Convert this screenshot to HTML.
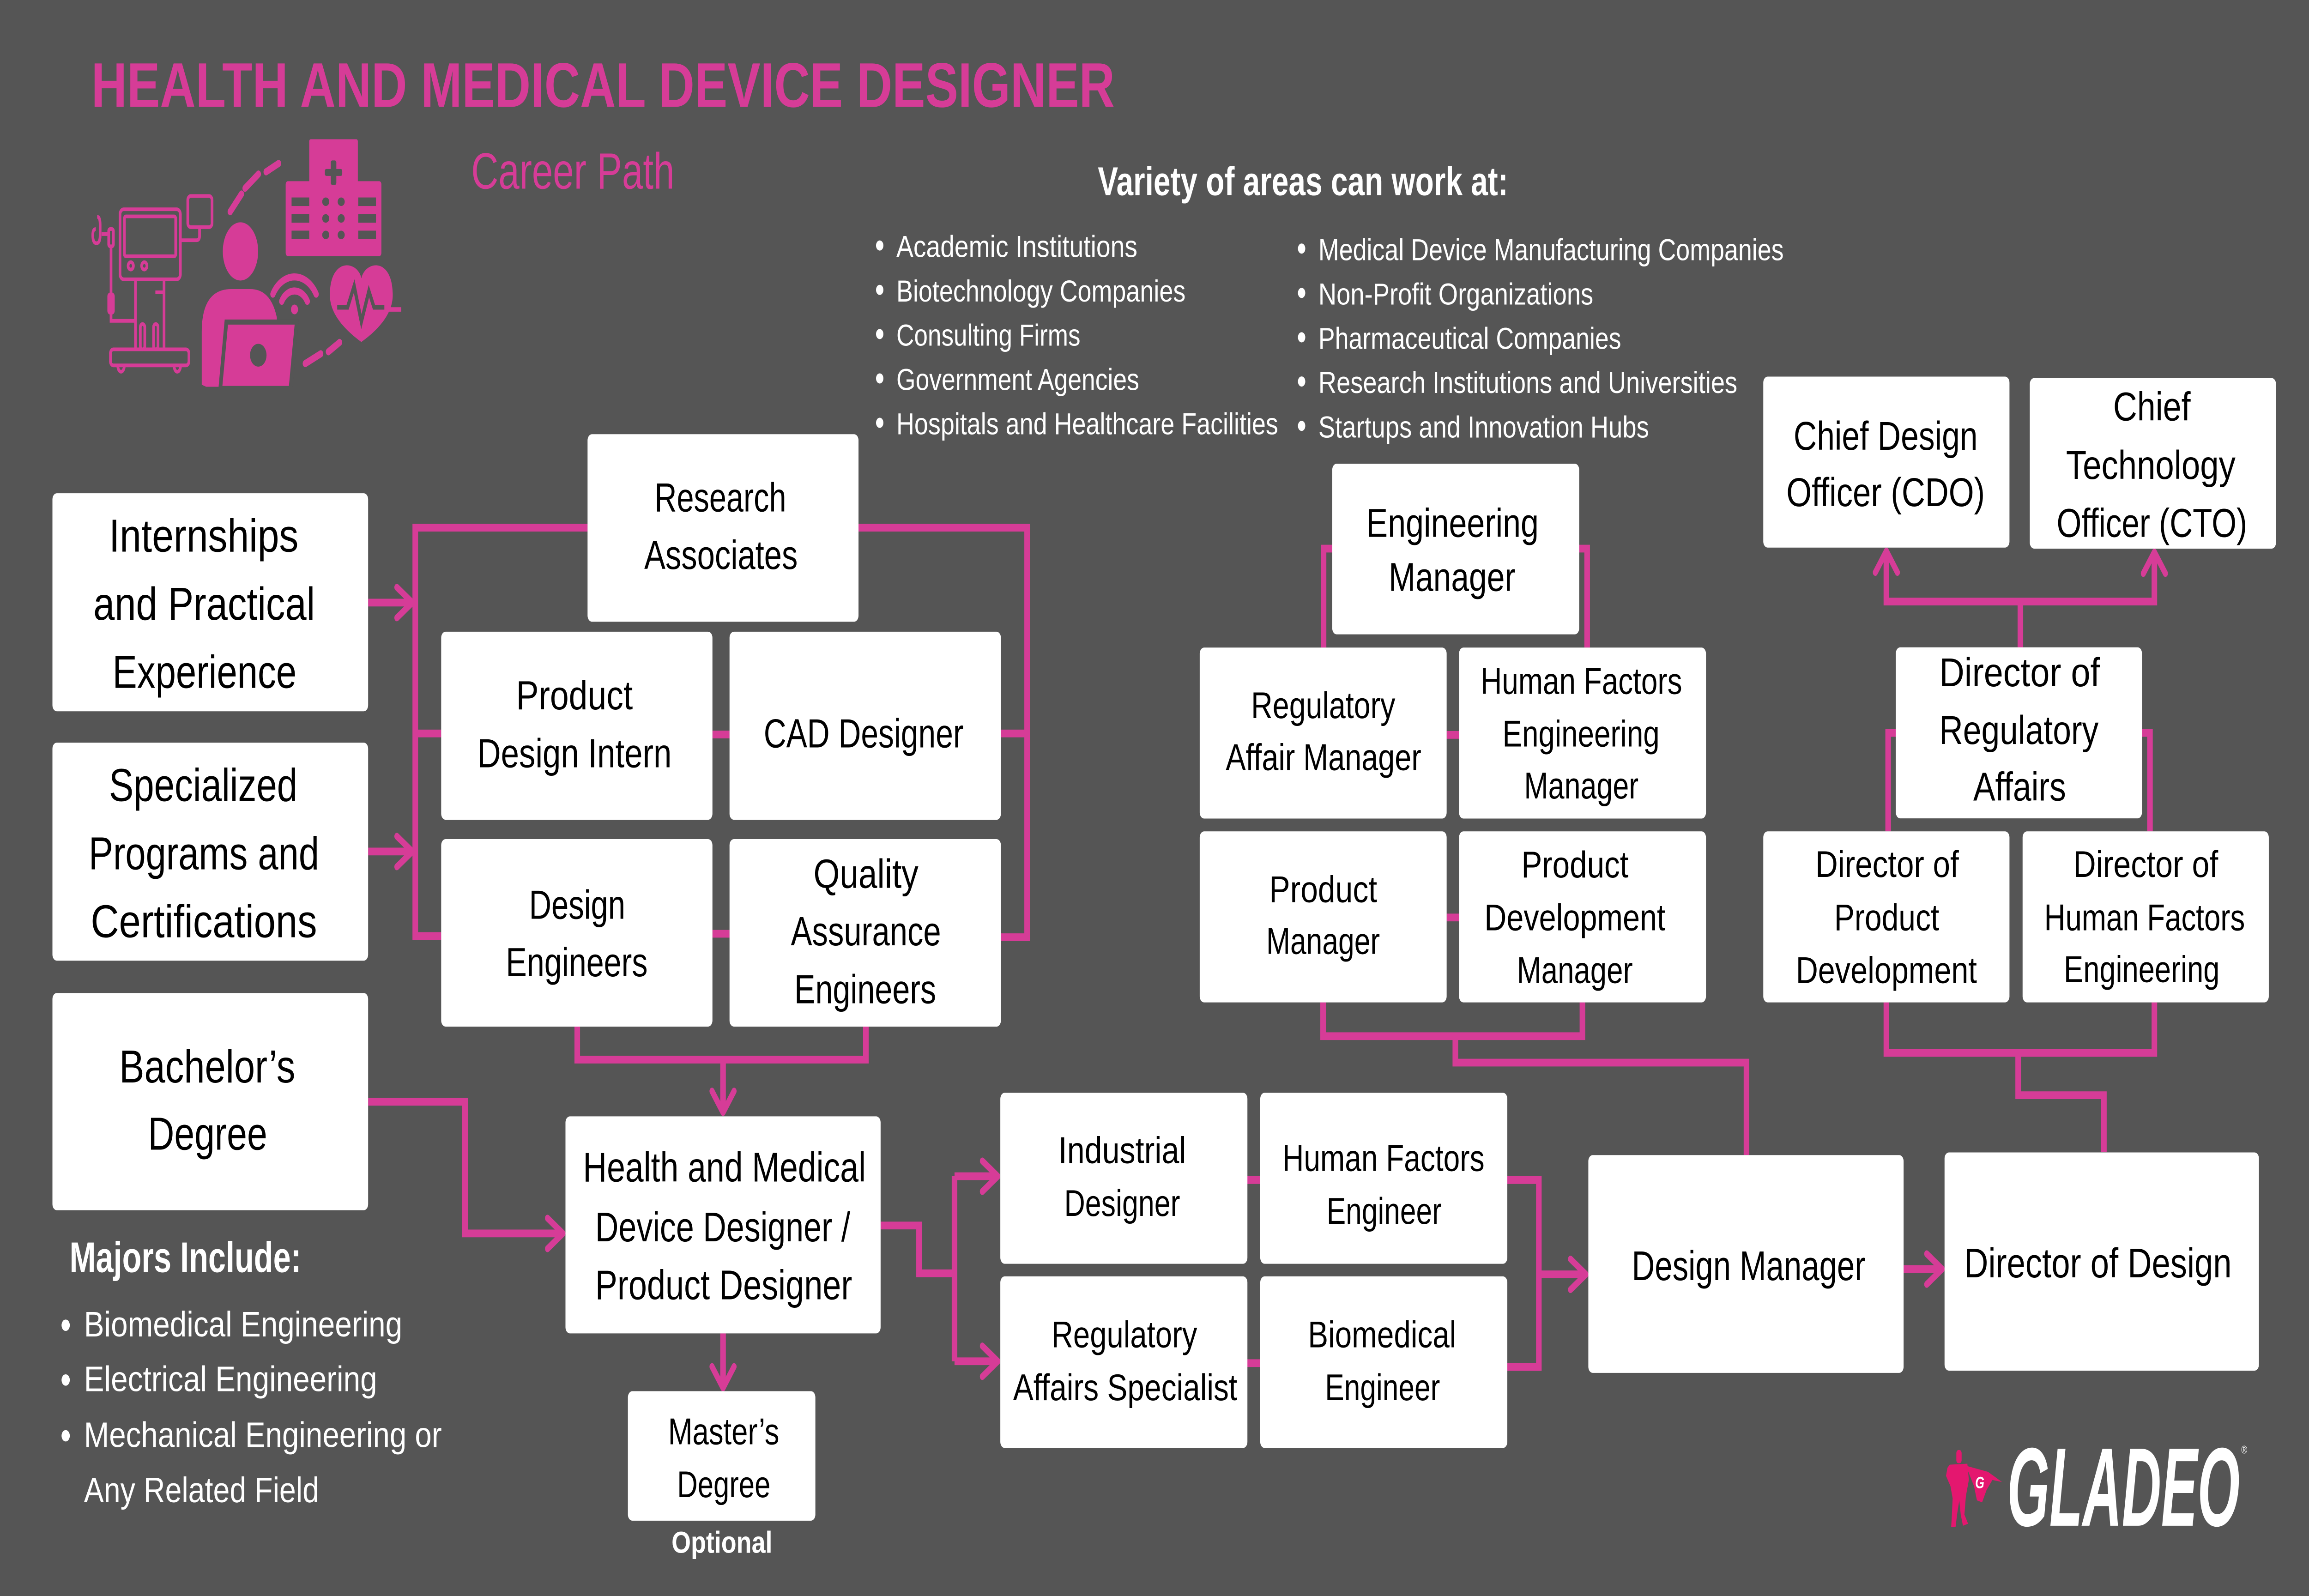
<!DOCTYPE html>
<html><head><meta charset="utf-8">
<style>
html,body{margin:0;padding:0;width:100vw;height:100vh;overflow:hidden;background:#555555;}
svg{display:block;width:100vw;height:100vh;}
text{font-family:"Liberation Sans",Arial,sans-serif;}
.k{fill:#000;}
.w{fill:#fff;}
</style></head>
<body>
<svg viewBox="0 0 1568 784" preserveAspectRatio="none" xmlns="http://www.w3.org/2000/svg">
<rect x="0" y="0" width="1568" height="784" fill="#555555"/>

<!-- Title -->
<text x="62" y="52.5" font-size="31" font-weight="bold" fill="#D63C97" textLength="695" lengthAdjust="spacingAndGlyphs">HEALTH AND MEDICAL DEVICE DESIGNER</text>
<text x="320" y="92.7" font-size="25" fill="#D63C97" textLength="138" lengthAdjust="spacingAndGlyphs">Career Path</text>

<!-- Icon -->
<g fill="none" stroke="#D63C97" stroke-width="1.8">
 <rect x="81.5" y="102.8" width="41" height="34.4" rx="2.5"/>
 <rect x="84.5" y="106.3" width="34.8" height="19.6" rx="1"/>
 <circle cx="88.8" cy="130.6" r="1.8"/>
 <circle cx="98" cy="130.6" r="1.8"/>
 <path d="M92,137.4 V171.6 M111.4,137.4 V171.6 M105.5,143.6 H111.4"/>
 <rect x="95.3" y="159.2" width="3" height="12.4" rx="1.5"/>
 <rect x="104.3" y="159.2" width="3" height="12.4" rx="1.5"/>
 <rect x="75" y="171.6" width="53.3" height="7.9" rx="2"/>
 <path d="M80,179.6 a2.2,3 0 0 0 4.4,0 M118.2,179.6 a2.2,3 0 0 0 4.4,0"/>
 <path d="M75.4,121 V157.6 H92"/>
 <rect x="73.8" y="112.5" width="3.2" height="8.5" rx="1"/>
 <rect x="73.8" y="144.6" width="3.2" height="9" rx="1"/>
 <path d="M73.8,115 H69 M66,106.5 q2,0 2,4 v5 q0,4 -2.5,4 q-2.5,0 -2.5,-4 q0,-3 2,-3"/>
 <rect x="127.5" y="96.3" width="16.5" height="15.3" rx="2"/>
 <path d="M135.5,111.6 V116 q0,2 -2,2 H122.5"/>
</g>
<g stroke="#D63C97" stroke-width="3.5" stroke-linecap="round" fill="none">
 <path d="M156.3,104 L164,95.3"/>
 <path d="M166.4,92.5 L175.5,85.5"/>
 <path d="M180.7,84.4 L189.2,80.3"/>
 <path d="M207.3,178.6 L217.8,173.8"/>
 <path d="M223,172.8 L230.6,168.2"/>
 <path d="M191.3,148 A10,10 0 0 1 208.7,148"/>
 <path d="M185.3,144.5 A17,17 0 0 1 214.7,144.5"/>
</g>
<circle cx="200" cy="152" r="2.4" fill="#D63C97"/>
<g fill="#D63C97">
 <rect x="210" y="68.4" width="33" height="22" rx="1"/>
 <rect x="194" y="89" width="65" height="36.8" rx="1.5"/>
</g>
<g fill="#555555">
 <rect x="224.6" y="78.8" width="3.8" height="12" rx="1"/>
 <rect x="220.6" y="83" width="11.8" height="3.4" rx="1"/>
 <rect x="198" y="97" width="12" height="4.2"/>
 <rect x="198" y="105.2" width="12" height="4.2"/>
 <rect x="198" y="113.3" width="12" height="4.2"/>
 <rect x="243.3" y="97" width="12" height="4.2"/>
 <rect x="243.3" y="105.2" width="12" height="4.2"/>
 <rect x="243.3" y="113.3" width="12" height="4.2"/>
 <ellipse cx="221.2" cy="99.1" rx="2.4" ry="2.1"/>
 <ellipse cx="231.7" cy="99.1" rx="2.4" ry="2.1"/>
 <ellipse cx="221.2" cy="107.3" rx="2.4" ry="2.1"/>
 <ellipse cx="231.7" cy="107.3" rx="2.4" ry="2.1"/>
 <ellipse cx="221.2" cy="115.4" rx="2.4" ry="2.1"/>
 <ellipse cx="231.7" cy="115.4" rx="2.4" ry="2.1"/>
</g>
<ellipse cx="163.3" cy="123.5" rx="12" ry="14.3" fill="#D63C97"/>
<path d="M137,189 L137,163 Q137,142 157,142 L170,142 Q184,142 188,156 L188,190 L140,190 Z" fill="#D63C97"/>
<path d="M153.7,158.2 L201.5,158.2 L197.3,190.8 L149.6,190.8 Z" fill="#D63C97" stroke="#555555" stroke-width="2.5"/>
<circle cx="175.4" cy="174.5" r="5.6" fill="#555555"/>
<path d="M245.4,136.7 C243,128 224,126 224,145 C224,155 236,163 245.4,168 C255,163 266.7,155 266.7,145 C266.7,126 248,128 245.4,136.7 Z" fill="#D63C97"/>
<polyline points="229,151 236,151 240.5,140.5 245.4,158 250.5,143 254,151 261,151" fill="none" stroke="#555555" stroke-width="2.2"/>
<path d="M264,152 H272.5" stroke="#D63C97" stroke-width="2.2"/>

<!-- Variety section -->
<text x="745.5" y="95.9" font-size="19.8" font-weight="bold" class="w" textLength="278.6" lengthAdjust="spacingAndGlyphs">Variety of areas can work at:</text>
<g class="w" font-size="15">
 <text x="608.7" y="126.3" textLength="163.7" lengthAdjust="spacingAndGlyphs">Academic Institutions</text>
 <text x="608.7" y="148.1" textLength="196.4" lengthAdjust="spacingAndGlyphs">Biotechnology Companies</text>
 <text x="608.7" y="169.8" textLength="125" lengthAdjust="spacingAndGlyphs">Consulting Firms</text>
 <text x="608.7" y="191.6" textLength="164.9" lengthAdjust="spacingAndGlyphs">Government Agencies</text>
 <text x="608.7" y="213.4" textLength="259.3" lengthAdjust="spacingAndGlyphs">Hospitals and Healthcare Facilities</text>
 <text x="895.3" y="127.8" textLength="316" lengthAdjust="spacingAndGlyphs">Medical Device Manufacturing Companies</text>
 <text x="895.3" y="149.6" textLength="186.7" lengthAdjust="spacingAndGlyphs">Non-Profit Organizations</text>
 <text x="895.3" y="171.4" textLength="205.6" lengthAdjust="spacingAndGlyphs">Pharmaceutical Companies</text>
 <text x="895.3" y="193.1" textLength="284.5" lengthAdjust="spacingAndGlyphs">Research Institutions and Universities</text>
 <text x="895.3" y="214.9" textLength="224.5" lengthAdjust="spacingAndGlyphs">Startups and Innovation Hubs</text>
</g>
<g fill="#fff">
 <circle cx="597.4" cy="120.6" r="2.5"/>
 <circle cx="597.4" cy="142.4" r="2.5"/>
 <circle cx="597.4" cy="164.1" r="2.5"/>
 <circle cx="597.4" cy="185.9" r="2.5"/>
 <circle cx="597.4" cy="207.7" r="2.5"/>
 <circle cx="883.9" cy="122.1" r="2.5"/>
 <circle cx="883.9" cy="143.9" r="2.5"/>
 <circle cx="883.9" cy="165.7" r="2.5"/>
 <circle cx="883.9" cy="187.4" r="2.5"/>
 <circle cx="883.9" cy="209.2" r="2.5"/>
</g>

<!-- Connectors -->
<g fill="none" stroke="#D63C97" stroke-width="3.8" stroke-linejoin="miter">
 <path d="M399,259.2 H282 V459.8 H299.6"/>
 <path d="M282,360.3 H299.6"/>
 <path d="M583,259.2 H697.5 V460.4 H679.7"/>
 <path d="M679.7,360.3 H697.5"/>
 <path d="M483.8,360.8 H495.4"/>
 <path d="M483.8,458.7 H495.4"/>
 <path d="M250,296 H280"/>
 <path d="M250,418.3 H280"/>
 <path d="M392,504.3 V520.5 H588 V504.3"/>
 <path d="M491,520.5 V546"/>
 <path d="M250,541.2 H315.8 V605.9 H382"/>
 <path d="M491,655 V681.5"/>
 <path d="M598,602 H624.1 V625.5 H648.2"/>
 <path d="M648.2,577.8 V668.7"/>
 <path d="M648.2,577.8 H677"/>
 <path d="M648.2,668.7 H677"/>
 <path d="M847,579.7 H856"/>
 <path d="M847,669.6 H856"/>
 <path d="M1023.6,579.7 H1045 V671.5 H1023.6"/>
 <path d="M1045,626 H1076"/>
 <path d="M1292.7,623.4 H1318"/>
 <path d="M904.7,269.5 H898.8 V318.1"/>
 <path d="M1072.4,269.5 H1077.8 V318.1"/>
 <path d="M982.4,361 H990.8"/>
 <path d="M982.4,450.7 H990.8"/>
 <path d="M898.5,492.4 V509 H1074.6 V492.4"/>
 <path d="M988.3,509 V522 H1186 V567.4"/>
 <path d="M1281,271.5 V295.5 H1463 V271.5"/>
 <path d="M1372,295.5 V318"/>
 <path d="M1287.4,360 H1282.2 V408.4"/>
 <path d="M1454.6,360 H1460 V408.4"/>
 <path d="M1281,492.4 V517.2 H1463 V492.4"/>
 <path d="M1370.5,517.2 V538 H1428.7 V566"/>
</g>
<!-- Arrowheads -->
<g fill="none" stroke="#D63C97" stroke-width="3.4" stroke-linejoin="round" stroke-linecap="round">
 <path d="M269.5,288.5 L280,296 L269.5,303.5"/>
 <path d="M269.5,410.8 L280,418.3 L269.5,425.8"/>
 <path d="M483.5,536 L491,546.5 L498.5,536"/>
 <path d="M371.8,598.4 L382.3,605.9 L371.8,613.4"/>
 <path d="M483.5,671.3 L491,681.8 L498.5,671.3"/>
 <path d="M667.1,570.3 L677.6,577.8 L667.1,585.3"/>
 <path d="M667.1,661.2 L677.6,668.7 L667.1,676.2"/>
 <path d="M1066.5,618.5 L1077,626 L1066.5,633.5"/>
 <path d="M1308.4,615.9 L1318.9,623.4 L1308.4,630.9"/>
 <path d="M1273.5,281.2 L1281,270.7 L1288.5,281.2"/>
 <path d="M1455.5,281.7 L1463,271.2 L1470.5,281.7"/>
</g>

<!-- Boxes -->
<g fill="#fff">
 <rect x="35.6" y="242.3" width="214.4" height="107.1" rx="3"/>
 <rect x="35.6" y="364.8" width="214.4" height="107.1" rx="3"/>
 <rect x="35.6" y="487.8" width="214.4" height="106.7" rx="3"/>
 <rect x="399" y="213.3" width="184" height="92.1" rx="3"/>
 <rect x="299.6" y="310.3" width="184.2" height="92.4" rx="3"/>
 <rect x="495.4" y="310.3" width="184.3" height="92.4" rx="3"/>
 <rect x="299.6" y="412.2" width="184.2" height="92.1" rx="3"/>
 <rect x="495.4" y="412.2" width="184.3" height="92.1" rx="3"/>
 <rect x="384" y="548.4" width="214" height="106.6" rx="3"/>
 <rect x="426.4" y="683.4" width="127.3" height="63.6" rx="3"/>
 <rect x="679.3" y="536.8" width="167.8" height="84" rx="3"/>
 <rect x="855.8" y="536.8" width="167.8" height="84" rx="3"/>
 <rect x="679.3" y="627" width="167.8" height="84.3" rx="3"/>
 <rect x="855.8" y="627" width="167.8" height="84.3" rx="3"/>
 <rect x="1078.6" y="567.4" width="214.1" height="107" rx="3"/>
 <rect x="1320.5" y="566.1" width="213.5" height="107.2" rx="3"/>
 <rect x="904.7" y="227.8" width="167.7" height="83.8" rx="3"/>
 <rect x="814.7" y="318.1" width="167.7" height="84" rx="3"/>
 <rect x="990.8" y="318.1" width="167.7" height="84" rx="3"/>
 <rect x="814.7" y="408.4" width="167.7" height="84" rx="3"/>
 <rect x="990.8" y="408.4" width="167.7" height="84" rx="3"/>
 <rect x="1197.4" y="185" width="167.2" height="84" rx="3"/>
 <rect x="1378.4" y="185.7" width="167.2" height="83.8" rx="3"/>
 <rect x="1287.4" y="318" width="167.2" height="84" rx="3"/>
 <rect x="1197.4" y="408.4" width="167.2" height="84" rx="3"/>
 <rect x="1373.5" y="408.4" width="167.2" height="84" rx="3"/>
</g>

<!-- Box text -->
<g class="k">
 <g font-size="22.8">
  <text x="74" y="271" textLength="128.7" lengthAdjust="spacingAndGlyphs">Internships</text>
  <text x="63.4" y="304.4" textLength="150.5" lengthAdjust="spacingAndGlyphs">and Practical</text>
  <text x="76.4" y="337.9" textLength="125" lengthAdjust="spacingAndGlyphs">Experience</text>
  <text x="74" y="393.5" textLength="128" lengthAdjust="spacingAndGlyphs">Specialized</text>
  <text x="60.2" y="427" textLength="156.5" lengthAdjust="spacingAndGlyphs">Programs and</text>
  <text x="61.6" y="460.4" textLength="153.7" lengthAdjust="spacingAndGlyphs">Certifications</text>
  <text x="81" y="531.7" textLength="119.5" lengthAdjust="spacingAndGlyphs">Bachelor’s</text>
  <text x="100.5" y="564.7" textLength="81" lengthAdjust="spacingAndGlyphs">Degree</text>
 </g>
 <g font-size="20">
  <text x="444.5" y="251.2" textLength="89.4" lengthAdjust="spacingAndGlyphs">Research</text>
  <text x="437.5" y="279.5" textLength="104.2" lengthAdjust="spacingAndGlyphs">Associates</text>
  <text x="350.5" y="348.4" textLength="79.2" lengthAdjust="spacingAndGlyphs">Product</text>
  <text x="324.1" y="376.9" textLength="132" lengthAdjust="spacingAndGlyphs">Design Intern</text>
  <text x="518.6" y="367.2" textLength="135.7" lengthAdjust="spacingAndGlyphs">CAD Designer</text>
  <text x="359.3" y="451.3" textLength="65.3" lengthAdjust="spacingAndGlyphs">Design</text>
  <text x="343.5" y="479.6" textLength="96.3" lengthAdjust="spacingAndGlyphs">Engineers</text>
  <text x="552.4" y="436.1" textLength="71.3" lengthAdjust="spacingAndGlyphs">Quality</text>
  <text x="537.1" y="464.4" textLength="101.9" lengthAdjust="spacingAndGlyphs">Assurance</text>
  <text x="539.4" y="492.8" textLength="96.3" lengthAdjust="spacingAndGlyphs">Engineers</text>
 </g>
 <g font-size="20.5">
  <text x="395.9" y="580.4" textLength="192.1" lengthAdjust="spacingAndGlyphs">Health and Medical</text>
  <text x="404.2" y="609.8" textLength="173.2" lengthAdjust="spacingAndGlyphs">Device Designer /</text>
  <text x="404.2" y="638.3" textLength="174.5" lengthAdjust="spacingAndGlyphs">Product Designer</text>
  <text x="1108.1" y="628.8" textLength="158.6" lengthAdjust="spacingAndGlyphs">Design Manager</text>
  <text x="1333.8" y="627.5" textLength="181.7" lengthAdjust="spacingAndGlyphs">Director of Design</text>
 </g>
 <g font-size="18.3">
  <text x="453.7" y="709.5" textLength="75.5" lengthAdjust="spacingAndGlyphs">Master’s</text>
  <text x="459.8" y="735.4" textLength="63.4" lengthAdjust="spacingAndGlyphs">Degree</text>
  <text x="718.7" y="571.3" textLength="86.8" lengthAdjust="spacingAndGlyphs">Industrial</text>
  <text x="722.7" y="597.3" textLength="78.7" lengthAdjust="spacingAndGlyphs">Designer</text>
  <text x="870.9" y="575.2" textLength="137.2" lengthAdjust="spacingAndGlyphs">Human Factors</text>
  <text x="900.9" y="601.2" textLength="78.1" lengthAdjust="spacingAndGlyphs">Engineer</text>
  <text x="714" y="661.8" textLength="99" lengthAdjust="spacingAndGlyphs">Regulatory</text>
  <text x="688" y="687.8" textLength="152.2" lengthAdjust="spacingAndGlyphs">Affairs Specialist</text>
  <text x="888.2" y="661.8" textLength="100.7" lengthAdjust="spacingAndGlyphs">Biomedical</text>
  <text x="899.8" y="687.8" textLength="78.1" lengthAdjust="spacingAndGlyphs">Engineer</text>
  <text x="849.6" y="352.8" textLength="97.9" lengthAdjust="spacingAndGlyphs">Regulatory</text>
  <text x="832.4" y="378.3" textLength="132.8" lengthAdjust="spacingAndGlyphs">Affair Manager</text>
  <text x="1005.5" y="340.8" textLength="136.8" lengthAdjust="spacingAndGlyphs">Human Factors</text>
  <text x="1020.3" y="366.7" textLength="106.7" lengthAdjust="spacingAndGlyphs">Engineering</text>
  <text x="1035" y="392.2" textLength="77.7" lengthAdjust="spacingAndGlyphs">Manager</text>
  <text x="861.9" y="443.1" textLength="73.3" lengthAdjust="spacingAndGlyphs">Product</text>
  <text x="859.9" y="468.6" textLength="77.2" lengthAdjust="spacingAndGlyphs">Manager</text>
  <text x="1033.1" y="431" textLength="72.8" lengthAdjust="spacingAndGlyphs">Product</text>
  <text x="1008" y="457" textLength="123" lengthAdjust="spacingAndGlyphs">Development</text>
  <text x="1030.1" y="482.9" textLength="78.7" lengthAdjust="spacingAndGlyphs">Manager</text>
  <text x="1232.8" y="430.8" textLength="97.4" lengthAdjust="spacingAndGlyphs">Director of</text>
  <text x="1245.6" y="457" textLength="71.3" lengthAdjust="spacingAndGlyphs">Product</text>
  <text x="1219.5" y="482.9" textLength="123" lengthAdjust="spacingAndGlyphs">Development</text>
  <text x="1407.9" y="430.8" textLength="98.4" lengthAdjust="spacingAndGlyphs">Director of</text>
  <text x="1388.2" y="457" textLength="136.3" lengthAdjust="spacingAndGlyphs">Human Factors</text>
  <text x="1401.5" y="482.4" textLength="105.8" lengthAdjust="spacingAndGlyphs">Engineering</text>
 </g>
 <g font-size="19.8">
  <text x="927.8" y="263.7" textLength="117.1" lengthAdjust="spacingAndGlyphs">Engineering</text>
  <text x="943" y="290.3" textLength="86.1" lengthAdjust="spacingAndGlyphs">Manager</text>
  <text x="1218" y="220.9" textLength="125" lengthAdjust="spacingAndGlyphs">Chief Design</text>
  <text x="1213.1" y="248.6" textLength="134.8" lengthAdjust="spacingAndGlyphs">Officer (CDO)</text>
  <text x="1435" y="206.5" textLength="52.6" lengthAdjust="spacingAndGlyphs">Chief</text>
  <text x="1403" y="235.2" textLength="115.1" lengthAdjust="spacingAndGlyphs">Technology</text>
  <text x="1396.6" y="263.7" textLength="129.4" lengthAdjust="spacingAndGlyphs">Officer (CTO)</text>
  <text x="1316.9" y="337.1" textLength="109.2" lengthAdjust="spacingAndGlyphs">Director of</text>
  <text x="1316.9" y="365.5" textLength="108.2" lengthAdjust="spacingAndGlyphs">Regulatory</text>
  <text x="1340" y="393.3" textLength="63" lengthAdjust="spacingAndGlyphs">Affairs</text>
 </g>
</g>

<!-- Optional & Majors -->
<text x="456" y="762.8" font-size="15" font-weight="bold" class="w" textLength="68.5" lengthAdjust="spacingAndGlyphs">Optional</text>
<text x="47.2" y="624.9" font-size="21" font-weight="bold" class="w" textLength="157.4" lengthAdjust="spacingAndGlyphs">Majors Include:</text>
<g class="w" font-size="17.5">
 <text x="57" y="656.5" textLength="216.2" lengthAdjust="spacingAndGlyphs">Biomedical Engineering</text>
 <text x="57" y="683.4" textLength="199.1" lengthAdjust="spacingAndGlyphs">Electrical Engineering</text>
 <text x="57" y="710.8" textLength="243" lengthAdjust="spacingAndGlyphs">Mechanical Engineering or</text>
 <text x="57" y="737.9" textLength="159.7" lengthAdjust="spacingAndGlyphs">Any Related Field</text>
</g>
<g fill="#fff">
 <circle cx="44.6" cy="651" r="2.8"/>
 <circle cx="44.6" cy="677.9" r="2.8"/>
 <circle cx="44.6" cy="705.3" r="2.8"/>
</g>

<!-- GLADEO logo -->
<g fill="#E4176F">
 <rect x="1328.5" y="712.3" width="3.6" height="6.5" rx="1.5"/>
 <path d="M1324,719.5 L1336,719 L1337,727 L1335,735 L1334,744 L1336.5,748.5 L1333,749.5 L1331.5,744 L1330.5,737 L1329,744 L1328,750 L1325,750 L1325.5,744 L1326,736 L1324.5,730 L1321.5,725 L1322.5,721 Z"/>
 <path d="M1335,720 L1350,723 L1359.5,728 L1353,727 L1349,732 L1346,738 L1342.5,737 L1340.5,730 Z"/>
</g>
<text x="1341.3" y="731" font-size="8" font-weight="bold" font-style="italic" fill="#fff">G</text>
<text x="1363" y="749.5" font-size="55" font-weight="bold" font-style="italic" fill="#fff" textLength="158" lengthAdjust="spacingAndGlyphs">GLADEO</text>
<text x="1522" y="714" font-size="5.5" fill="#fff">®</text>
</svg>
</body></html>
